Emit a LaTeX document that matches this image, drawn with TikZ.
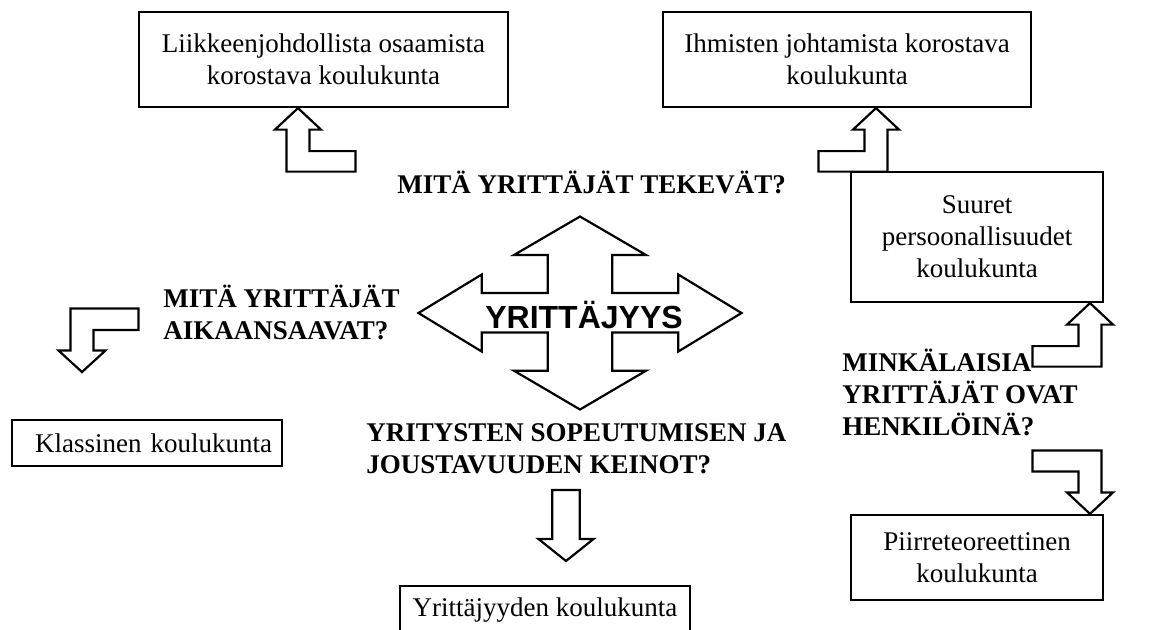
\documentclass[tikz,border=0pt]{standalone}
\usepackage{fontspec}
\setmainfont{Liberation Serif}
\setsansfont{Liberation Sans}
\begin{document}
\begin{tikzpicture}[x=0.5pt,y=-0.5pt,
  box/.style={draw, line width=1.1pt, inner sep=0pt, align=center, font=\fontsize{13.5}{16}\selectfont},
  question/.style={anchor=base west, inner sep=0pt, align=left, font=\fontsize{13.5}{16}\selectfont\bfseries},
  blockarrow/.style={draw, line width=1.1pt, line join=miter}]
\useasboundingbox (0,0) rectangle (1152,629);
\clip (0,0) rectangle (1152,629);
\node[box, minimum width=184.5pt, minimum height=47.5pt] (lbox) at (323.5,59.5) {Liikkeenjohdollista osaamista\\korostava koulukunta};
\node[box, minimum width=184pt, minimum height=47.5pt] (rbox) at (847,59.5) {Ihmisten johtamista korostava\\koulukunta};
\node[box, minimum width=126pt, minimum height=65pt] (sbox) at (977,237) {Suuret\\persoonallisuudet\\koulukunta};
\node[box, minimum width=135pt, minimum height=23pt, text width=125pt, align=right] (kbox) at (147,443) {Klassinen koulukunta};
\node[box, minimum width=126pt, minimum height=42.5pt] (pbox) at (977,557.5) {Piirreteoreettinen\\koulukunta};
\node[box, minimum width=145pt, minimum height=24pt] (ybox) at (545,610) {Yrittäjyyden koulukunta};
\node[question] (tq) at (397,193) {MITÄ YRITTÄJÄT TEKEVÄT?};
\node[question] (lq) at (163,339) {MITÄ YRITTÄJÄT\\AIKAANSAAVAT?};
\node[question] (bq) at (366,473) {YRITYSTEN SOPEUTUMISEN JA\\JOUSTAVUUDEN KEINOT?};
\node[question] (mq) at (842,435) {MINKÄLAISIA\\YRITTÄJÄT OVAT\\HENKILÖINÄ?};
\coordinate (hub) at (580,313);
\draw[blockarrow, shift={(hub)}] (0,-96.5) -- (66,-58) -- (32.3,-58) -- (32.3,-20) -- (98.3,-20) -- (98.3,-38.5)
  -- (161.5,0) -- (98.3,38.5) -- (98.3,19.5) -- (32.3,19.5) -- (32.3,57.7) -- (66,57.7) -- (0,96.5)
  -- (-66,57.7) -- (-32.3,57.7) -- (-32.3,19.5) -- (-98.3,19.5) -- (-98.3,38.5) -- (-161.5,0)
  -- (-98.3,-38.5) -- (-98.3,-20) -- (-32.3,-20) -- (-32.3,-58) -- (-66,-58) -- cycle;
\node[font=\sffamily\bfseries\fontsize{16}{19}\selectfont, anchor=base, inner sep=0pt] (core) at (584,328) {YRITTÄJYYS};
\draw[blockarrow] (298,0 |- lbox.south) -- ++(23,21.5) -- ++(-11.5,0) -- ++(0,21.5) -- ++(46,0) -- ++(0,20.5) -- ++(-69,0) -- ++(0,-42) -- ++(-11.5,0) -- cycle;
\draw[blockarrow] (876,0 |- rbox.south) -- ++(-23,21.5) -- ++(11.5,0) -- ++(0,21.5) -- ++(-46,0) -- ++(0,20.5) -- ++(69,0) -- ++(0,-42) -- ++(11.5,0) -- cycle;
\draw[blockarrow] (1090,0 |- sbox.south) -- ++(-23,21.5) -- ++(11.5,0) -- ++(0,21.5) -- ++(-46,0) -- ++(0,20.5) -- ++(69,0) -- ++(0,-42) -- ++(11.5,0) -- cycle;
\draw[blockarrow] (1090,0 |- pbox.north) -- ++(-23,-21.5) -- ++(11.5,0) -- ++(0,-21) -- ++(-46,0) -- ++(0,-21) -- ++(69,0) -- ++(0,42) -- ++(11.5,0) -- cycle;
\draw[blockarrow] (82,372) -- ++(23.5,-21.5) -- ++(-12,0) -- ++(0,-20.5) -- ++(45,0) -- ++(0,-21.5) -- ++(-68,0) -- ++(0,42) -- ++(-12,0) -- cycle;
\draw[blockarrow] (566,561) -- ++(27.5,-22) -- ++(-13.75,0) -- ++(0,-49) -- ++(-27.5,0) -- ++(0,49) -- ++(-13.75,0) -- cycle;
\end{tikzpicture}
\end{document}
